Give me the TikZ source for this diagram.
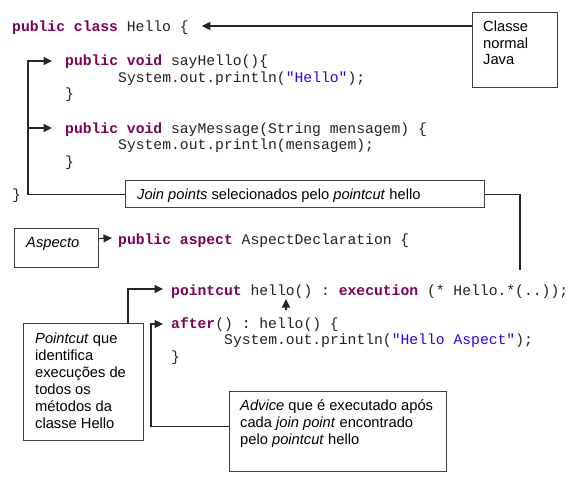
\documentclass[tikz,border=0pt]{standalone}
\usepackage{fontspec}
\setmainfont{Liberation Sans}
\setmonofont{Liberation Mono}
\usetikzlibrary{arrows.meta}
\definecolor{kwc}{HTML}{7F0055}
\definecolor{strc}{HTML}{2A00FF}
\definecolor{codec}{HTML}{222222}
\newcommand{\kwd}[1]{\textbf{\textcolor{kwc}{#1}}}
\newcommand{\strq}[1]{\textcolor{strc}{#1}}
\begin{document}
\begin{tikzpicture}[x=1pt,y=-1pt,
  code/.style={anchor=base west, inner sep=0pt, font=\fontsize{14.7}{16.75}\selectfont\ttfamily, text=codec},
  lbl/.style={anchor=base west, inner sep=0pt, font=\fontsize{14.7}{16.75}\selectfont, text=black},
  box/.style={draw=black!75, line width=1.2pt, rectangle, inner sep=0pt, anchor=north west},
  conn/.style={draw=black!85, line width=1.1pt},
  arr/.style={conn, -{Triangle[length=8.5pt,width=8pt]}}]
\useasboundingbox[fill=white] (0,0) rectangle (575,484);

% code of the Java class
\node[code] (c1) at (12,32) {\kwd{public class} Hello \{};
\node[code] (c2) at (65,66) {\kwd{public void} sayHello()\{};
\node[code] (c3) at (118,82.5) {System.out.println(\strq{"Hello"});};
\node[code] (c4) at (65,99) {\}};
\node[code] (c5) at (65,133) {\kwd{public void} sayMessage(String mensagem) \{};
\node[code] (c6) at (118,149.5) {System.out.println(mensagem);};
\node[code] (c7) at (65,166) {\}};
\node[code] (c8) at (12,199.5) {\}};

% code of the aspect
\node[code] (a1) at (118,244) {\kwd{public aspect} AspectDeclaration \{};
\node[code] (a2) at (171,295) {\kwd{pointcut} hello() : \kwd{execution} (* Hello.*(..));};
\node[code] (a3) at (171,328) {\kwd{after}() : hello() \{};
\node[code] (a4) at (224,344.5) {System.out.println(\strq{"Hello Aspect"});};
\node[code] (a5) at (171,361) {\}};

% boxes
\node[box, minimum width=85pt, minimum height=75pt] (classe) at (472,12) {};
\node[box, minimum width=359pt, minimum height=27pt] (join) at (125,180) {};
\node[box, minimum width=84pt, minimum height=39pt] (aspecto) at (14,228) {};
\node[box, minimum width=120pt, minimum height=117pt] (pcbox) at (23,323) {};
\node[box, minimum width=217pt, minimum height=80pt] (advice) at (229,391) {};

% box texts
\node[lbl] (t1a) at (483,32) {Classe};
\node[lbl] (t1b) at (483,48.5) {normal};
\node[lbl] (t1c) at (483,65) {Java};
\node[lbl] (t2) at (137,199) {\textit{Join points} selecionados pelo \textit{pointcut} hello};
\node[lbl] (t3) at (26,247) {\textit{Aspecto}};
\node[lbl] (t4a) at (35,343) {\textit{Pointcut} que};
\node[lbl] (t4b) at (35,360) {identifica};
\node[lbl] (t4c) at (35,377) {execuções de};
\node[lbl] (t4d) at (35,394) {todos os};
\node[lbl] (t4e) at (35,411) {métodos da};
\node[lbl] (t4f) at (35,428) {classe Hello};
\node[lbl] (t5a) at (240,410.7) {\textit{Advice} que é executado após};
\node[lbl] (t5b) at (240,427.4) {cada \textit{join point} encontrado};
\node[lbl] (t5c) at (240,444) {pelo \textit{pointcut} hello};

% connectors
\draw[arr] ([yshift=-14pt]classe.north west) -- ([xshift=13pt,yshift=6pt]c1.base east);
\draw[arr] (join.west) -| ([xshift=-37pt,yshift=5pt]c2.base west) -- ([xshift=-13pt,yshift=5pt]c2.base west);
\draw[arr] ([xshift=-37pt,yshift=5pt]c5.base west) -- ([xshift=-13pt,yshift=5pt]c5.base west);
\coordinate (jend) at (520,270);
\draw[conn] (join.east) -| (jend);
\draw[arr] ([yshift=9.5pt]aspecto.east) -- ([xshift=-6pt,yshift=6pt]a1.base west);
\draw[arr] ([xshift=105pt]pcbox.north west) |- ([xshift=-8pt,yshift=6pt]a2.base west);
\draw[arr] ([yshift=5pt]advice.west) -| ([xshift=-20pt,yshift=4pt]a3.base west) -- ([xshift=-8pt,yshift=4pt]a3.base west);
\draw[arr] ([xshift=115pt,yshift=-15pt]a2.base west) -- ([xshift=115pt,yshift=-4pt]a2.base west);
\end{tikzpicture}
\end{document}
